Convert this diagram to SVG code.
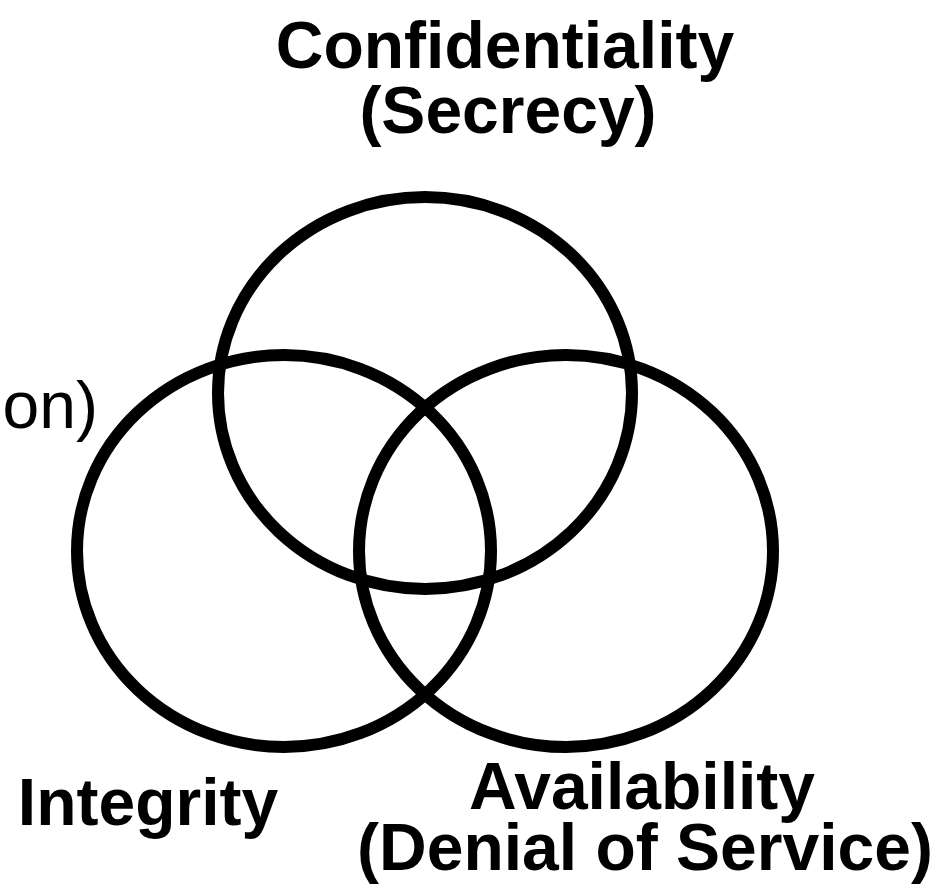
<svg xmlns="http://www.w3.org/2000/svg" width="935" height="888" viewBox="0 0 935 888">
  <style>
    .ring { fill: none; stroke: #000; stroke-width: 12; }
    .label { font-family: "Liberation Sans", Arial, sans-serif; font-size: 66px; font-weight: bold; fill: #000; text-anchor: middle; }
    .plain { font-family: "Liberation Sans", Arial, sans-serif; font-size: 66px; fill: #000; text-anchor: end; }
  </style>
  <rect width="935" height="888" fill="#fff"/>

  <!-- Confidentiality circle (top) -->
  <g id="confidentiality">
    <ellipse class="ring" cx="425" cy="393" rx="207" ry="196"/>
    <text class="label" x="505" y="68">Confidentiality</text>
    <text class="label" x="508" y="133">(Secrecy)</text>
  </g>

  <!-- Integrity circle (left) -->
  <g id="integrity">
    <ellipse class="ring" cx="284" cy="551" rx="207" ry="196"/>
    <text class="label" x="148" y="825">Integrity</text>
    <text class="plain" x="98" y="428">on)</text>
  </g>

  <!-- Availability circle (right) -->
  <g id="availability">
    <ellipse class="ring" cx="566" cy="551" rx="207" ry="196"/>
    <text class="label" x="642" y="809">Availability</text>
    <text class="label" x="645" y="870">(Denial of Service)</text>
  </g>

  <g id="connectors"></g>
</svg>
